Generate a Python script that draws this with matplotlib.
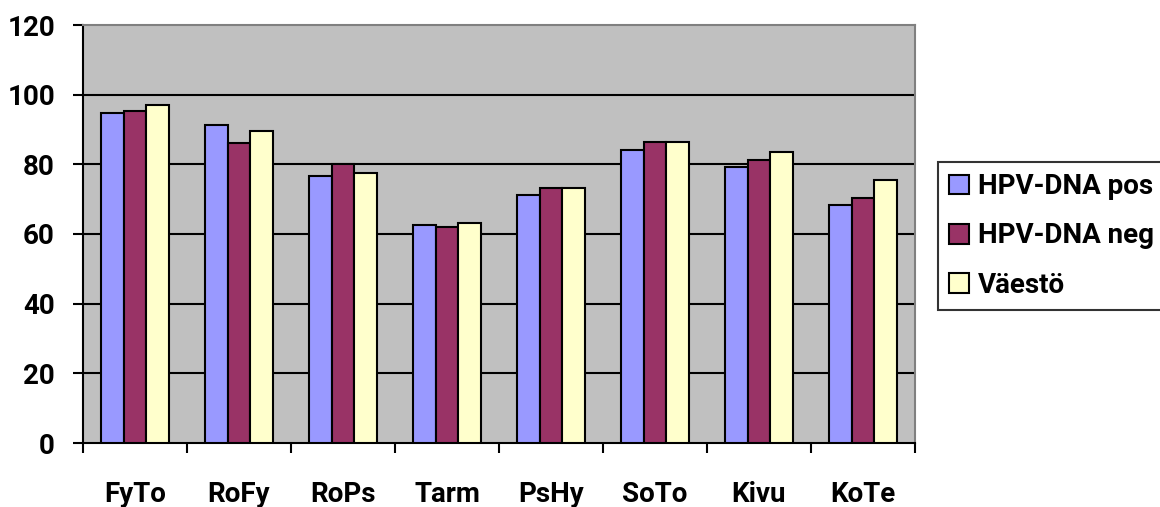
import numpy as np
import matplotlib.pyplot as plt

categories = ["FyTo", "RoFy", "RoPs", "Tarm", "PsHy", "SoTo", "Kivu", "KoTe"]
hpv_pos = [94.6, 91.4, 76.6, 62.5, 71.1, 84.0, 79.2, 68.2]
hpv_neg = [95.2, 86.2, 80.2, 62.1, 73.3, 86.3, 81.2, 70.3]
vaesto = [97.1, 89.7, 77.4, 63.2, 73.2, 86.4, 83.5, 75.4]
series_names = ["HPV-DNA pos", "HPV-DNA neg", "Väestö"]
colors = ["#9999FF", "#993366", "#FFFFCC"]

plt.rcParams['font.family'] = ['Roboto', 'DejaVu Sans']
plt.rcParams['font.weight'] = 'bold'
fs = 20

fig = plt.figure(figsize=(11.6, 5.07), dpi=100)
ax = fig.add_axes([83/1160, 64/507, 832/1160, 418/507])
ax.set_facecolor("#C0C0C0")

x = np.arange(len(categories)) + 0.5
w = 0.22
for i, (vals, name, c) in enumerate(zip([hpv_pos, hpv_neg, vaesto], series_names, colors)):
    ax.bar(x + (i - 1) * w, vals, w, color=c, edgecolor="black", linewidth=1.5,
           label=name, zorder=3)

ax.set_xlim(0, len(categories))
ax.set_ylim(0, 120)
ax.set_yticks(range(0, 121, 20))
ax.set_yticklabels([str(v) for v in range(0, 121, 20)], fontsize=fs, fontweight='bold')
for v in range(20, 120, 20):
    ax.axhline(v, color="black", linewidth=1.5, zorder=1)

ax.set_xticks(np.arange(len(categories) + 1))
ax.set_xticklabels([])
ax.set_xticks(x, minor=True)
ax.set_xticklabels(categories, minor=True, fontsize=fs, fontweight='bold')
ax.tick_params(axis='x', which='minor', length=0, pad=27)
ax.tick_params(axis='x', which='major', length=7.2, width=1.5, direction='out')
ax.tick_params(axis='y', length=7.2, width=1.5, direction='out', pad=13)

ax.spines['left'].set_linewidth(1.5)
ax.spines['bottom'].set_linewidth(1.5)
ax.spines['top'].set_color("#808080")
ax.spines['right'].set_color("#808080")
ax.spines['top'].set_linewidth(1.5)
ax.spines['right'].set_linewidth(1.5)

leg = fig.legend(loc="upper left", bbox_to_anchor=(938/1160, 1 - 162/507),
                 borderaxespad=0, frameon=True, fancybox=False, handlelength=0.72,
                 handleheight=0.72, handletextpad=0.32, labelspacing=0.8,
                 borderpad=0.4, prop={'weight': 'bold', 'size': fs})
leg.get_frame().set_edgecolor("black")
leg.get_frame().set_linewidth(1.5)

fig.savefig("out.png", dpi=100)
